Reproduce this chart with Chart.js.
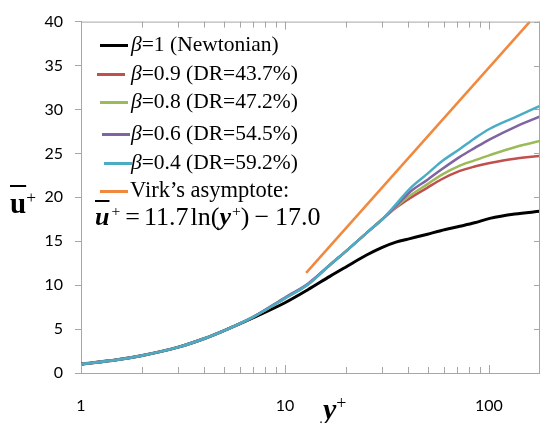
<!DOCTYPE html>
<html>
<head>
<meta charset="utf-8">
<script src="https://cdn.jsdelivr.net/npm/chart.js@4.4.1/dist/chart.umd.min.js"></script>
<style>
    body { margin: 0; background: #fff; }
    #wrap { position: relative; width: 540px; height: 423px; overflow: hidden; }
    #chart { position: absolute; left: 0; top: 0; }
    .serif { position: absolute; font-family: "Liberation Serif", "Times New Roman", serif; color: #000; white-space: nowrap; line-height: 1; }
    .legtext { font-size: 21.5px; }
    .swatch { position: absolute; width: 28px; height: 3px; }
    sup { font-size: 60%; vertical-align: 0; position: relative; top: -0.55em; }
    .eq span { display: inline-block; }
</style>
</head>
<body>
<div id="wrap">
    <canvas id="chart" width="540" height="423"></canvas>
    <div id="legend"></div>
    <div class="serif" style="left:10px;top:189px;font-size:29px;font-weight:bold;"><span style="text-decoration:overline;">u</span><sup style="font-weight:normal;top:-0.6em;">+</sup></div>
    <div class="serif" style="left:323px;top:394px;font-size:30px;font-weight:bold;font-style:italic;">y<sup style="font-weight:normal;font-style:normal;">+</sup></div>
    <div class="serif eq" style="left:95px;top:204px;font-size:26px;"><b><i style="text-decoration:overline;">u</i></b><sup style="margin-left:2px;">+</sup><span style="margin:0 4px 0 5px;">=</span>11.7<span style="margin-left:2px;">ln(</span><b><i>y</i></b><sup style="margin-left:1px;">+</sup>)<span style="margin:0 6px 0 5px;">&minus;</span>17.0</div>
</div>
<script>
const yPlus = [1, 1.5, 2, 3, 4, 5, 7, 10, 13, 16.6, 20, 25, 30, 35, 41, 50, 58, 72, 85, 101, 134, 178];

const newtonian = [1.0, 1.5, 2.0, 2.95, 3.9, 4.8, 6.3, 8.0, 9.5, 11.0, 12.1, 13.4, 14.3, 14.9, 15.3, 15.8, 16.2, 16.7, 17.1, 17.6, 18.1, 18.4];
const beta09 = [1.0, 1.5, 2.0, 2.95, 3.9, 4.8, 6.4, 8.5, 10.1, 12.3, 13.9, 15.9, 17.5, 18.8, 19.9, 21.1, 22.0, 23.0, 23.5, 23.9, 24.4, 24.7];
const beta08 = [1.0, 1.5, 2.0, 2.95, 3.9, 4.8, 6.4, 8.5, 10.1, 12.3, 13.9, 15.9, 17.5, 18.9, 20.2, 21.5, 22.5, 23.6, 24.2, 24.8, 25.7, 26.4];
const beta06 = [1.0, 1.5, 2.0, 2.95, 3.9, 4.8, 6.4, 8.6, 10.2, 12.3, 13.9, 15.9, 17.5, 19.0, 20.6, 22.0, 23.1, 24.6, 25.6, 26.6, 28.0, 29.2];
const beta04 = [1.0, 1.5, 2.0, 2.95, 3.9, 4.8, 6.4, 8.5, 10.1, 12.3, 13.9, 15.9, 17.5, 19.2, 21.0, 22.7, 24.0, 25.5, 26.7, 27.8, 29.1, 30.4];

// Virk's asymptote, read at its two visible ends
const virkX = [12.7, 158.8];
const virkU = [11.4, 40];

const seriesLabels = ['=1 (Newtonian)', '=0.9 (DR=43.7%)', '=0.8 (DR=47.2%)', '=0.6 (DR=54.5%)', '=0.4 (DR=59.2%)'];
const seriesColors = ['#000000', '#C0504D', '#9BBB59', '#8064A2', '#4BACC6'];
const virkColor = '#F0883E';

const xTickValues = [1, 2, 3, 4, 5, 6, 7, 8, 9, 10, 20, 30, 40, 50, 60, 70, 80, 90, 100];
const xLabelValues = [1, 10, 100];

const toPoints = (xs, ys) => xs.map((x, i) => ({ x: x, y: ys[i] }));

const profiles = [newtonian, beta09, beta08, beta06, beta04];
const datasets = profiles.map((vals, i) => ({
    label: seriesLabels[i],
    data: toPoints(yPlus, vals),
    borderColor: seriesColors[i],
    borderWidth: i === 0 ? 3 : 2.5,
    pointRadius: 0,
    cubicInterpolationMode: 'monotone',
    fill: false
}));
// draw the dark curve on top of the others, like the original
datasets.reverse();
datasets.push({
    label: 'Virk',
    data: toPoints(virkX, virkU),
    borderColor: virkColor,
    borderWidth: 2.5,
    pointRadius: 0,
    fill: false
});

// box frame + inward ticks (bottom, top, right)
const frameTicks = {
    id: 'frameTicks',
    afterDraw(chart) {
        const { ctx, chartArea: a, scales: { x, y } } = chart;
        ctx.save();
        ctx.strokeStyle = '#a6a6a6';
        ctx.lineWidth = 1;
        ctx.beginPath();
        ctx.moveTo(a.left, a.top + 0.5);
        ctx.lineTo(a.right, a.top + 0.5);
        ctx.moveTo(a.right - 0.5, a.top);
        ctx.lineTo(a.right - 0.5, a.bottom);
        x.ticks.forEach(t => {
            const px = Math.round(x.getPixelForValue(t.value)) + 0.5;
            const len = xLabelValues.includes(t.value) ? 8 : 6;
            ctx.moveTo(px, a.bottom);
            ctx.lineTo(px, a.bottom - len);
            ctx.moveTo(px, a.top);
            ctx.lineTo(px, a.top + len);
        });
        y.ticks.forEach(t => {
            const py = Math.round(y.getPixelForValue(t.value)) + 0.5;
            ctx.moveTo(a.right, py);
            ctx.lineTo(a.right - 6, py);
        });
        ctx.stroke();
        ctx.restore();
    }
};

new Chart(document.getElementById('chart'), {
    type: 'line',
    data: { datasets: datasets },
    options: {
        responsive: false,
        animation: false,
        layout: { padding: { top: 20, right: 0, left: 0, bottom: 0 } },
        plugins: { legend: { display: false }, tooltip: { enabled: false } },
        scales: {
            x: {
                type: 'logarithmic',
                min: 1,
                max: 178,
                afterBuildTicks: scale => { scale.ticks = xTickValues.map(v => ({ value: v })); },
                afterFit: scale => { scale.height = 50; },
                grid: { display: true, drawOnChartArea: false, drawTicks: false, color: '#a6a6a6' },
                border: { display: true, color: '#a6a6a6' },
                ticks: {
                    autoSkip: false,
                    maxRotation: 0,
                    padding: 23,
                    color: '#000',
                    font: { family: 'Lato', size: 16 },
                    callback: v => xLabelValues.includes(v) ? String(v) : ''
                }
            },
            y: {
                min: 0,
                max: 40,
                afterFit: scale => { scale.width = 81; },
                grid: { drawOnChartArea: false, drawTicks: true, tickLength: 6, color: '#a6a6a6' },
                border: { display: true, color: '#a6a6a6' },
                ticks: {
                    stepSize: 5,
                    padding: 12,
                    color: '#000',
                    font: { family: 'Lato', size: 16 }
                }
            }
        }
    },
    plugins: [frameTicks]
});

// legend inside the plot, built from the series names/colours
const legendRows = [45, 74, 102, 134, 163];
const legendSwatchX = [100, 97, 100, 102, 104];
const legend = document.getElementById('legend');
seriesLabels.forEach((txt, i) => {
    const sw = document.createElement('div');
    sw.className = 'swatch';
    sw.style.left = legendSwatchX[i] + 'px';
    sw.style.top = (legendRows[i] - 1) + 'px';
    sw.style.background = seriesColors[i];
    legend.appendChild(sw);
    const t = document.createElement('div');
    t.className = 'serif legtext';
    t.style.left = '131px';
    t.style.top = (legendRows[i] - 11) + 'px';
    t.innerHTML = '<i>&beta;</i>' + txt;
    legend.appendChild(t);
});
const vSw = document.createElement('div');
vSw.className = 'swatch';
vSw.style.left = '100px';
vSw.style.top = '190px';
vSw.style.background = virkColor;
legend.appendChild(vSw);
const vT = document.createElement('div');
vT.className = 'serif';
vT.style.fontSize = '22.5px';
vT.style.left = '130px';
vT.style.top = '179px';
vT.textContent = 'Virk\u2019s asymptote:';
legend.appendChild(vT);
</script>
</body>
</html>
